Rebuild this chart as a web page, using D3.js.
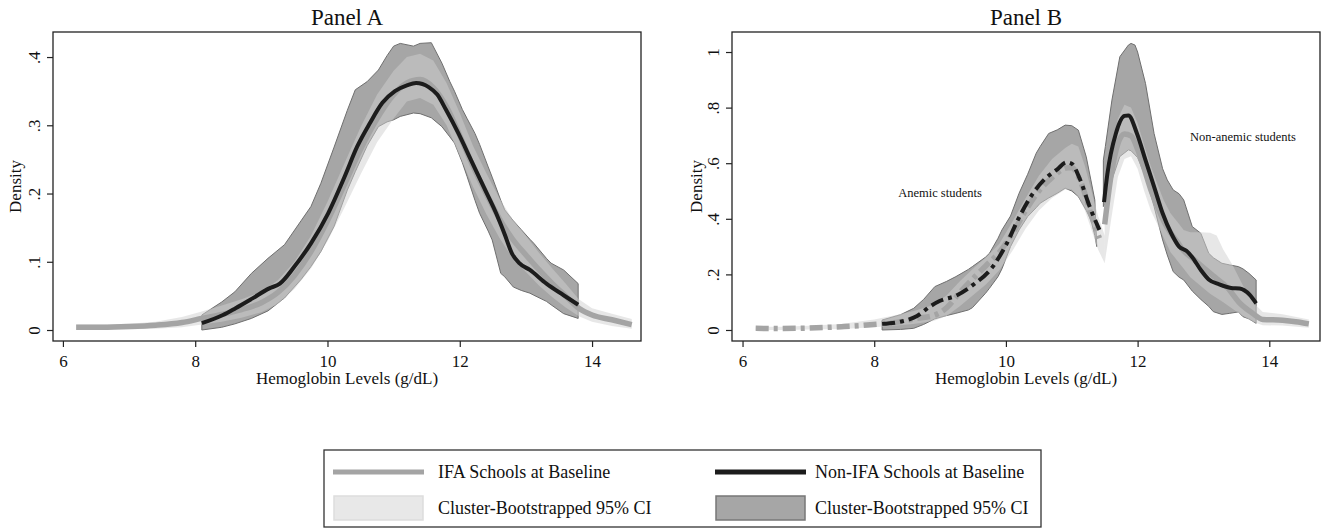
<!DOCTYPE html>
<html><head><meta charset="utf-8">
<script src="https://cdn.jsdelivr.net/npm/d3@7"></script>
<style>
body{margin:0;background:#fff}
svg{display:block}
text{font-family:"Liberation Serif","Times New Roman",serif;fill:#111}
</style>
</head><body>
<svg id="chart" width="1323" height="529"></svg>
<script>
// ---------------- DATA ----------------
const panelTitles = ["Panel A", "Panel B"];
const xTicks = [6, 8, 10, 12, 14];
const yTicksA = [0, 0.1, 0.2, 0.3, 0.4];
const yTicksB = [0, 0.2, 0.4, 0.6, 0.8, 1];
const xLabel = "Hemoglobin Levels (g/dL)";
const yLabel = "Density";
const legendLabels = ["IFA Schools at Baseline", "Non-IFA Schools at Baseline",
                      "Cluster-Bootstrapped 95% CI", "Cluster-Bootstrapped 95% CI"];
const annotations = ["Anemic students", "Non-anemic students"];

// Panel A: IFA schools density [x, y]
const aIfaLine = [[6.2,0.004],[6.6,0.004],[7.0,0.005],[7.4,0.007],[7.8,0.011],[8.1,0.017],[8.4,0.023],[8.7,0.03],[9.0,0.04],[9.25,0.055],[9.5,0.08],[9.75,0.115],[10.0,0.16],[10.25,0.212],[10.5,0.265],[10.75,0.31],[11.0,0.345],[11.2,0.362],[11.4,0.367],[11.6,0.355],[11.8,0.327],[12.0,0.285],[12.2,0.24],[12.4,0.2],[12.6,0.163],[12.8,0.133],[13.0,0.11],[13.2,0.088],[13.4,0.068],[13.6,0.05],[13.8,0.032],[14.0,0.022],[14.3,0.015],[14.6,0.008]];
// Panel A: IFA CI [x, lo, hi]
const aIfaCI = [[6.2,0.0,0.008],[6.6,0.0005,0.008],[7.0,0.001,0.009],[7.4,0.002,0.012],[7.8,0.004,0.019],[8.1,0.008,0.027],[8.4,0.012,0.036],[8.7,0.018,0.045],[9.0,0.026,0.056],[9.25,0.038,0.073],[9.5,0.06,0.1],[9.75,0.09,0.138],[10.0,0.13,0.188],[10.25,0.178,0.243],[10.5,0.228,0.297],[10.75,0.275,0.345],[11.0,0.31,0.38],[11.2,0.335,0.4],[11.4,0.34,0.405],[11.6,0.33,0.395],[11.8,0.3,0.362],[12.0,0.255,0.318],[12.2,0.21,0.27],[12.4,0.17,0.23],[12.6,0.135,0.193],[12.8,0.105,0.162],[13.0,0.085,0.138],[13.2,0.065,0.113],[13.4,0.048,0.09],[13.6,0.033,0.068],[13.8,0.02,0.045],[14.0,0.012,0.032],[14.3,0.006,0.024],[14.6,0.002,0.016]];
// Panel A: Non-IFA schools density
const aNonLine = [[8.1,0.01],[8.42,0.022],[8.61,0.032],[8.86,0.046],[9.12,0.061],[9.28,0.068],[9.5,0.093],[9.75,0.127],[10.01,0.171],[10.26,0.225],[10.45,0.269],[10.64,0.303],[10.83,0.333],[11.02,0.35],[11.21,0.359],[11.34,0.362],[11.53,0.356],[11.66,0.345],[11.79,0.323],[11.98,0.288],[12.17,0.249],[12.36,0.21],[12.55,0.171],[12.68,0.14],[12.79,0.112],[12.9,0.098],[13.06,0.088],[13.31,0.068],[13.57,0.051],[13.79,0.037]];
// Panel A: Non-IFA CI
const aNonCI = [[8.1,0.0,0.022],[8.4,0.004,0.041],[8.6,0.009,0.056],[8.85,0.017,0.083],[9.1,0.028,0.105],[9.35,0.047,0.125],[9.6,0.074,0.16],[9.75,0.093,0.181],[9.9,0.115,0.215],[10.1,0.152,0.268],[10.3,0.205,0.322],[10.42,0.232,0.352],[10.6,0.27,0.364],[10.77,0.298,0.381],[10.9,0.305,0.402],[11.0,0.308,0.416],[11.1,0.313,0.42],[11.3,0.318,0.416],[11.4,0.317,0.42],[11.57,0.311,0.421],[11.73,0.298,0.391],[11.85,0.283,0.364],[11.92,0.274,0.35],[12.04,0.245,0.323],[12.11,0.225,0.31],[12.23,0.19,0.288],[12.3,0.171,0.272],[12.43,0.145,0.239],[12.49,0.132,0.224],[12.62,0.083,0.19],[12.68,0.078,0.176],[12.81,0.063,0.16],[12.93,0.058,0.147],[13.06,0.054,0.133],[13.12,0.051,0.127],[13.31,0.042,0.105],[13.38,0.037,0.098],[13.57,0.024,0.088],[13.79,0.017,0.068]];

// Panel B: IFA anemic (dashed) and non-anemic (solid)
const bIfaAnemic = [[6.2,0.006],[6.5,0.005],[7.0,0.007],[7.5,0.012],[7.8,0.016],[8.1,0.022],[8.4,0.03],[8.65,0.042],[8.9,0.052],[9.1,0.08],[9.3,0.135],[9.5,0.185],[9.7,0.232],[9.9,0.28],[10.1,0.348],[10.3,0.43],[10.5,0.5],[10.7,0.548],[10.9,0.582],[11.0,0.585],[11.1,0.552],[11.2,0.49],[11.3,0.41],[11.42,0.33]];
const bIfaNonAnemic = [[11.5,0.38],[11.6,0.56],[11.7,0.67],[11.8,0.705],[11.9,0.698],[12.0,0.65],[12.1,0.58],[12.2,0.505],[12.3,0.445],[12.4,0.39],[12.5,0.35],[12.6,0.318],[12.68,0.29],[12.85,0.255],[13.04,0.216],[13.2,0.185],[13.35,0.156],[13.55,0.097],[13.74,0.061],[13.9,0.038],[14.2,0.035],[14.4,0.03],[14.6,0.022]];
// Panel B: Non-IFA anemic (dashed) and non-anemic (solid)
const bNonAnemic = [[8.12,0.022],[8.4,0.03],[8.65,0.05],[8.85,0.085],[9.0,0.105],[9.25,0.124],[9.5,0.162],[9.8,0.228],[10.0,0.305],[10.2,0.405],[10.4,0.488],[10.6,0.545],[10.78,0.578],[10.92,0.603],[11.0,0.598],[11.12,0.545],[11.27,0.445],[11.42,0.36]];
const bNonNonAnemic = [[11.49,0.46],[11.54,0.56],[11.67,0.707],[11.8,0.77],[11.86,0.772],[11.99,0.707],[12.12,0.611],[12.25,0.516],[12.38,0.42],[12.51,0.348],[12.63,0.3],[12.74,0.285],[12.83,0.262],[12.96,0.216],[13.08,0.182],[13.24,0.164],[13.42,0.151],[13.55,0.149],[13.7,0.127],[13.8,0.096]];
// Panel B: CIs [x, lo, hi]
const bIfaCIAnemic = [[6.2,0.0,0.012],[6.6,0.0,0.012],[7.0,0.002,0.015],[7.5,0.004,0.022],[8.0,0.01,0.038],[8.3,0.015,0.052],[8.6,0.022,0.068],[8.9,0.032,0.09],[9.1,0.05,0.125],[9.3,0.085,0.175],[9.5,0.125,0.22],[9.7,0.165,0.262],[9.9,0.215,0.31],[10.1,0.285,0.39],[10.3,0.365,0.475],[10.5,0.43,0.555],[10.7,0.475,0.615],[10.9,0.505,0.655],[11.0,0.505,0.67],[11.1,0.48,0.66],[11.2,0.43,0.59],[11.3,0.36,0.5],[11.4,0.29,0.41],[11.5,0.24,0.34]];
const bIfaCINonAnemic = [[11.5,0.24,0.5],[11.6,0.4,0.63],[11.7,0.55,0.76],[11.8,0.615,0.81],[11.9,0.625,0.8],[12.0,0.58,0.745],[12.1,0.5,0.665],[12.2,0.43,0.59],[12.3,0.38,0.525],[12.4,0.33,0.465],[12.5,0.28,0.42],[12.6,0.25,0.39],[12.7,0.22,0.36],[12.8,0.19,0.352],[12.95,0.16,0.352],[13.1,0.13,0.35],[13.2,0.115,0.34],[13.3,0.1,0.29],[13.45,0.075,0.23],[13.6,0.05,0.16],[13.75,0.03,0.1],[13.9,0.017,0.065],[14.2,0.016,0.057],[14.6,0.008,0.038]];
const bNonCIAnemic = [[8.12,0.0,0.036],[8.4,0.002,0.055],[8.6,0.006,0.078],[8.75,0.02,0.11],[8.92,0.04,0.156],[9.1,0.052,0.175],[9.24,0.06,0.192],[9.43,0.072,0.218],[9.49,0.08,0.228],[9.69,0.132,0.262],[9.75,0.15,0.276],[9.88,0.192,0.33],[9.94,0.22,0.36],[10.07,0.3,0.41],[10.2,0.36,0.492],[10.33,0.408,0.56],[10.46,0.44,0.636],[10.52,0.456,0.66],[10.65,0.475,0.707],[10.78,0.492,0.72],[10.9,0.51,0.737],[11.0,0.5,0.735],[11.1,0.48,0.719],[11.22,0.43,0.623],[11.29,0.396,0.54],[11.35,0.34,0.468],[11.38,0.3,0.3]];
const bNonCINonAnemic = [[11.48,0.444,0.611],[11.51,0.456,0.66],[11.61,0.54,0.827],[11.73,0.624,0.983],[11.86,0.648,1.025],[11.9,0.645,1.031],[11.96,0.63,1.025],[12.0,0.62,1.0],[12.12,0.552,0.887],[12.25,0.444,0.707],[12.38,0.324,0.58],[12.45,0.27,0.54],[12.54,0.21,0.504],[12.63,0.19,0.49],[12.7,0.18,0.468],[12.83,0.14,0.372],[12.96,0.11,0.348],[13.08,0.085,0.276],[13.15,0.066,0.26],[13.28,0.056,0.24],[13.4,0.06,0.234],[13.53,0.065,0.228],[13.6,0.048,0.22],[13.69,0.04,0.204],[13.8,0.024,0.18]];

// ---------------- STYLE ----------------
const C = {
  ifaLine: "#a4a4a4", nonLine: "#1c1c1c",
  ifaBand: "#d0d0d0", ifaBandOpacity: 0.5,
  nonBand: "#a6a6a6", nonBandStroke: "#6f6f6f",
  frame: "#222"
};
const dashPattern = "13,5,4,5";

const svg = d3.select("#chart");

function panel(cfg) {
  const {left, right, top, bottom, xDomain, yDomain, yTicks, title, tickLabelX, yLabelX} = cfg;
  const x = d3.scaleLinear().domain(xDomain).range([left, right]);
  const y = d3.scaleLinear().domain(yDomain).range([bottom, top]);
  const g = svg.append("g");
  const clipId = "clip" + left;
  svg.append("defs").append("clipPath").attr("id", clipId)
    .append("rect").attr("x", left).attr("y", top).attr("width", right - left).attr("height", bottom - top);
  const plot = g.append("g").attr("clip-path", `url(#${clipId})`);

  const area = d3.area().x(d => x(d[0])).y0(d => y(d[1])).y1(d => y(d[2]));
  const line = d3.line().x(d => x(d[0])).y(d => y(d[1])).curve(d3.curveMonotoneX);

  (cfg.nonBands || []).forEach(b => plot.append("path").datum(b).attr("d", area)
    .attr("fill", C.nonBand).attr("stroke", C.nonBandStroke).attr("stroke-width", 1));
  (cfg.ifaBands || []).forEach(b => plot.append("path").datum(b).attr("d", area)
    .attr("fill", C.ifaBand).attr("fill-opacity", C.ifaBandOpacity));
  (cfg.ifaLines || []).forEach(l => plot.append("path").datum(l.data).attr("d", line)
    .attr("fill", "none").attr("stroke", C.ifaLine).attr("stroke-width", 5.5)
    .attr("stroke-dasharray", l.dashed ? dashPattern : null));
  (cfg.nonLines || []).forEach(l => plot.append("path").datum(l.data).attr("d", line)
    .attr("fill", "none").attr("stroke", C.nonLine).attr("stroke-width", 4)
    .attr("stroke-dasharray", l.dashed ? dashPattern : null));

  // frame
  g.append("rect").attr("x", left).attr("y", top).attr("width", right - left).attr("height", bottom - top)
    .attr("fill", "none").attr("stroke", C.frame).attr("stroke-width", 1.3);

  const fmt = d => d === 0 ? "0" : (d === 1 ? "1" : String(+d.toFixed(1)).replace(/^0/, ""));
  // x axis
  const xa = g.append("g").attr("transform", `translate(0,${bottom})`)
    .call(d3.axisBottom(x).tickValues(xTicks).tickSize(6).tickPadding(4).tickFormat(d3.format("d")));
  xa.select(".domain").remove();
  xa.selectAll("line").attr("stroke", C.frame).attr("stroke-width", 1.2);
  xa.selectAll("text").attr("font-size", 17).attr("fill", "#111")
    .attr("font-family", '"Liberation Serif", serif').attr("dy", null).attr("y", 26);
  // y axis
  const ya = g.append("g").attr("transform", `translate(${left},0)`)
    .call(d3.axisLeft(y).tickValues(yTicks).tickSize(6).tickFormat(fmt));
  ya.select(".domain").remove();
  ya.selectAll("line").attr("stroke", C.frame).attr("stroke-width", 1.2);
  ya.selectAll("text").attr("font-size", 17).attr("fill", "#111")
    .attr("font-family", '"Liberation Serif", serif')
    .attr("x", null).attr("dy", null).attr("text-anchor", "middle")
    .attr("transform", `translate(${tickLabelX - left},0) rotate(-90)`);

  // titles
  const cx = (left + right) / 2;
  g.append("text").attr("x", cx).attr("y", 25).attr("text-anchor", "middle")
    .attr("font-size", 23).text(title);
  g.append("text").attr("x", cx).attr("y", 384).attr("text-anchor", "middle")
    .attr("font-size", 17).text(xLabel);
  g.append("text").attr("transform", `translate(${yLabelX},${(top + bottom) / 2}) rotate(-90)`)
    .attr("text-anchor", "middle").attr("font-size", 17).text(yLabel);
  return {x, y, g};
}

panel({
  left: 53, right: 641, top: 32, bottom: 341,
  xDomain: [5.85, 14.74], yDomain: [-0.0161, 0.4367], yTicks: yTicksA,
  title: panelTitles[0], tickLabelX: 40, yLabelX: 21,
  nonBands: [aNonCI], ifaBands: [aIfaCI],
  ifaLines: [{data: aIfaLine}], nonLines: [{data: aNonLine}]
});

const pB = panel({
  left: 732, right: 1320, top: 32, bottom: 341,
  xDomain: [5.84, 14.77], yDomain: [-0.0396, 1.072], yTicks: yTicksB,
  title: panelTitles[1], tickLabelX: 719, yLabelX: 702,
  nonBands: [bNonCIAnemic, bNonCINonAnemic], ifaBands: [bIfaCIAnemic, bIfaCINonAnemic],
  ifaLines: [{data: bIfaAnemic, dashed: true}, {data: bIfaNonAnemic}],
  nonLines: [{data: bNonAnemic, dashed: true}, {data: bNonNonAnemic}]
});
pB.g.append("text").attr("x", 940).attr("y", 197).attr("text-anchor", "middle")
  .attr("font-size", 12.5).text(annotations[0]);
pB.g.append("text").attr("x", 1243).attr("y", 141).attr("text-anchor", "middle")
  .attr("font-size", 12.5).text(annotations[1]);

// ---------------- LEGEND ----------------
const lg = svg.append("g");
lg.append("rect").attr("x", 324).attr("y", 450).attr("width", 717).attr("height", 77)
  .attr("fill", "#fff").attr("stroke", "#333").attr("stroke-width", 1.3);
const cols = [333, 715];
const swW = 91;
// row 1: lines
lg.append("line").attr("x1", cols[0]).attr("x2", cols[0] + swW).attr("y1", 472).attr("y2", 472)
  .attr("stroke", C.ifaLine).attr("stroke-width", 5);
lg.append("line").attr("x1", cols[1]).attr("x2", cols[1] + swW).attr("y1", 472).attr("y2", 472)
  .attr("stroke", C.nonLine).attr("stroke-width", 5);
// row 2: bands
lg.append("rect").attr("x", cols[0] + 1).attr("y", 496).attr("width", swW - 2).attr("height", 24)
  .attr("fill", "#e8e8e8").attr("stroke", "#dddddd").attr("stroke-width", 1.5);
lg.append("rect").attr("x", cols[1] + 1).attr("y", 496).attr("width", swW - 2).attr("height", 24)
  .attr("fill", C.nonBand).attr("stroke", "#777").attr("stroke-width", 1.5);
const textX = [438, 815];
[[0, 478], [1, 478], [2, 514], [3, 514]].forEach(([i, yy]) => {
  lg.append("text").attr("x", textX[i % 2]).attr("y", yy).attr("font-size", 18).text(legendLabels[i]);
});
</script>
</body></html>
